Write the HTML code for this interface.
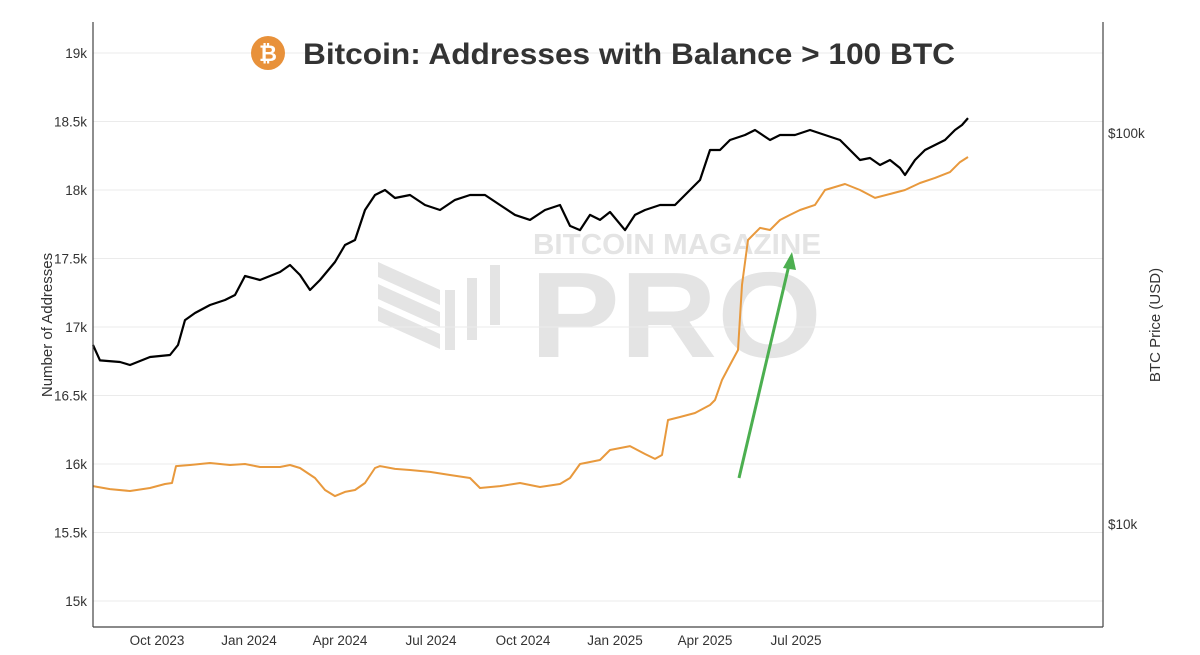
<!DOCTYPE html>
<html><head><meta charset="utf-8"><style>
html,body{margin:0;padding:0;background:#fff;}
svg{display:block;font-family:"Liberation Sans",sans-serif;}
</style></head><body>
<svg id="chart" width="1200" height="655" viewBox="0 0 1200 655">
<g fill="#e4e4e4">
<text x="533" y="254" font-size="29" font-weight="bold" textLength="288" lengthAdjust="spacingAndGlyphs">BITCOIN MAGAZINE</text>
<text x="530" y="357" font-size="122" font-weight="bold" textLength="292" lengthAdjust="spacingAndGlyphs">PRO</text>
<polygon points="378,262 440,290 440,305 378,277"/>
<polygon points="378,284 440,312 440,327 378,299"/>
<polygon points="378,306 440,334 440,349 378,321"/>
<rect x="445" y="290" width="10" height="60"/><rect x="467" y="278" width="10" height="62"/><rect x="490" y="265" width="10" height="60"/>
</g>
<g id="grid"></g>
<g id="series"></g>
<line x1="93" y1="22" x2="93" y2="627" stroke="#444" stroke-width="1.2"/>
<line x1="1103" y1="22" x2="1103" y2="627" stroke="#444" stroke-width="1.2"/>
<line x1="93" y1="627" x2="1103" y2="627" stroke="#444" stroke-width="1.2"/>
<g id="ticks"></g>
<text transform="translate(52,325) rotate(-90)" font-size="15" fill="#333" text-anchor="middle">Number of Addresses</text>
<text transform="translate(1160,325) rotate(-90)" font-size="15" fill="#333" text-anchor="middle">BTC Price (USD)</text>
<g>
<circle cx="268" cy="53" r="17" fill="#e8913a"/>
<text x="268" y="61" font-size="22" font-weight="bold" fill="#fff" text-anchor="middle">₿</text>
<text x="303" y="64" font-size="30" font-weight="bold" fill="#333" textLength="652" lengthAdjust="spacingAndGlyphs">Bitcoin: Addresses with Balance &gt; 100 BTC</text>
</g>
<g>
<line x1="739" y1="478" x2="789" y2="265" stroke="#4caf50" stroke-width="3"/>
<polygon points="792,252 783,268 796,270" fill="#4caf50"/>
</g>
</svg>
<script>
// days since 2023-07-29
const addrDays=[0,17,37,57,72,79,83,97,117,137,152,167,187,197,207,222,232,242,252,262,272,282,287,302,317,337,357,377,387,407,427,447,467,477,487,507,517,537,552,562,569,575,587,602,617,622,629,637,645,649,655,667,677,687,697,707,722,732,752,767,782,797,812,827,842,857,867,875];
const addresses=[15839,15817,15803,15825,15854,15861,15985,15993,16007,15993,16000,15978,15978,15993,15971,15898,15810,15766,15796,15810,15861,15971,15985,15964,15956,15942,15920,15898,15825,15839,15861,15832,15854,15898,16000,16029,16102,16131,16073,16037,16066,16321,16343,16372,16431,16467,16613,16723,16832,17307,17635,17723,17708,17781,17818,17854,17891,18000,18044,18000,17942,17971,18000,18051,18088,18131,18204,18241];
const priceDays=[0,7,27,37,57,77,85,92,102,117,132,142,152,167,187,197,207,217,227,242,252,262,272,282,292,302,317,332,347,362,377,392,407,422,437,452,467,477,487,497,507,517,532,542,552,567,582,597,607,617,627,637,652,662,677,687,702,717,732,747,757,767,777,787,797,807,812,822,832,842,852,862,869,875];
const prices=[28700,26200,25960,25500,26740,27060,28700,33230,34640,36320,37400,38530,43090,42070,44100,45970,43340,39680,42070,46790,51700,53240,63560,69430,71500,68210,69430,65460,63560,67420,69430,69430,65460,61720,59930,63560,65460,57860,56460,61720,59930,62810,56460,61720,63560,65460,65460,71500,75830,90480,90480,95980,98830,101780,95980,98830,98830,101780,98830,95980,90480,85290,86310,82840,85290,81380,78100,85290,90480,93180,95980,101780,104800,109200];
const leftTicks=[15000,15500,16000,16500,17000,17500,18000,18500,19000];
const leftTickLabels=["15k","15.5k","16k","16.5k","17k","17.5k","18k","18.5k","19k"];
const rightTicks=[10000,100000];
const rightTickLabels=["$10k","$100k"];
const xTickDays=[64,156,247,338,430,522,612,703];
const xTickLabels=["Oct 2023","Jan 2024","Apr 2024","Jul 2024","Oct 2024","Jan 2025","Apr 2025","Jul 2025"];

const NS="http://www.w3.org/2000/svg";
const xS=d=>93+d;
const yL=v=>464-(v-16000)*0.137;
const yR=p=>524-(Math.log10(p)-4)*391;
function mk(tag,attrs,parent){const e=document.createElementNS(NS,tag);for(const k in attrs)e.setAttribute(k,attrs[k]);parent.appendChild(e);return e;}
const grid=document.getElementById('grid'),ticks=document.getElementById('ticks'),series=document.getElementById('series');
leftTicks.forEach((v,i)=>{
  const l=mk('line',{x1:93,x2:1103,y1:yL(v),y2:yL(v),stroke:'#ebebeb','stroke-width':1},grid);
  
  
  const t=mk('text',{x:87,y:yL(v)+5,'font-size':13.5,fill:'#333','text-anchor':'end'},ticks);
  t.textContent=leftTickLabels[i];
  
  
});
rightTicks.forEach((p,i)=>{
  const t=mk('text',{x:1108,y:yR(p)+5,'font-size':13.5,fill:'#333'},ticks);
  t.textContent=rightTickLabels[i];
  
  
});
xTickDays.forEach((d,i)=>{
  const t=mk('text',{x:xS(d),y:645,'font-size':13.5,fill:'#333','text-anchor':'middle'},ticks);
  t.textContent=xTickLabels[i];
  
  
});
const pa=mk('polyline',{points:addrDays.map((d,i)=>xS(d)+','+yL(addresses[i]).toFixed(1)).join(' '),fill:'none',stroke:'#e8993d','stroke-width':2,'stroke-linejoin':'round'},series);


const pp=mk('polyline',{points:priceDays.map((d,i)=>xS(d)+','+yR(prices[i]).toFixed(1)).join(' '),fill:'none',stroke:'#000','stroke-width':2.2,'stroke-linejoin':'round'},series);


</script>
</body></html>
